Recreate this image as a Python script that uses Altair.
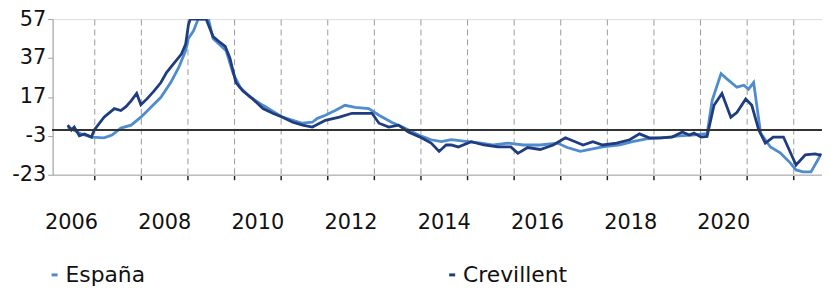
import altair as alt
import pandas as pd

# --- data (decimal year, value) ---
crev_t = [2006.43, 2006.51, 2006.57, 2006.68, 2006.79, 2006.94, 2007.00, 2007.21, 2007.43, 2007.57,
          2007.68, 2007.79, 2007.91, 2008.00, 2008.13, 2008.28, 2008.43, 2008.55, 2008.70, 2008.87,
          2008.96, 2009.02, 2009.06, 2009.40, 2009.55, 2009.70, 2009.81, 2009.91, 2010.04, 2010.19,
          2010.40, 2010.62, 2010.83, 2011.04, 2011.26, 2011.47, 2011.68, 2011.96, 2012.26, 2012.53,
          2012.81, 2012.96, 2013.11, 2013.32, 2013.53, 2013.74, 2014.02, 2014.23, 2014.40, 2014.55,
          2014.66, 2014.81, 2015.09, 2015.36, 2015.66, 2015.94, 2016.09, 2016.30, 2016.57, 2016.85,
          2017.11, 2017.32, 2017.49, 2017.70, 2017.91, 2018.21, 2018.49, 2018.70, 2018.91, 2019.13,
          2019.40, 2019.62, 2019.77, 2019.87, 2020.02, 2020.15, 2020.30, 2020.47, 2020.66, 2020.79,
          2020.98, 2021.11, 2021.26, 2021.40, 2021.57, 2021.79, 2022.06, 2022.26, 2022.47, 2022.60]
crev_v = [2.5, 0, 1.5, -3, -2, -3.6, 0, 6.6, 11, 10,
          12, 15, 18.8, 13, 16, 20, 24.4, 29.5, 34, 39,
          44, 54, 57, 57, 48, 45, 43, 37, 24.4, 20,
          16, 11, 8.6, 6.6, 4, 2.5, 1.5, 5, 6.6, 8.6,
          8.6, 8.6, 3.5, 1.5, 2.5, -1, -4, -6.7, -11, -7.7,
          -7.7, -8.7, -6, -7.7, -8.7, -8.7, -12, -9, -10, -7.7,
          -4, -6, -7.7, -6, -7.7, -6.7, -5, -2, -4, -4,
          -3.6, -1, -2.6, -1.6, -3.6, -3.3, 12.7, 18.8, 6.6, 9,
          16, 12.7, 0, -6.7, -3.6, -3.6, -18, -12.8, -12.3, -13]

esp_t = [2006.43, 2006.72, 2006.94, 2007.21, 2007.38, 2007.57, 2007.79, 2008.00, 2008.21, 2008.43,
         2008.64, 2008.81, 2008.96, 2009.02, 2009.13, 2009.23, 2009.45, 2009.55, 2009.83, 2009.98,
         2010.13, 2010.34, 2010.62, 2011.04, 2011.47, 2011.68, 2011.79, 2011.96, 2012.17, 2012.38,
         2012.60, 2012.89, 2013.11, 2013.38, 2013.66, 2013.96, 2014.23, 2014.45, 2014.66, 2015.02,
         2015.30, 2015.57, 2015.87, 2016.21, 2016.57, 2016.94, 2017.15, 2017.43, 2017.64, 2017.91,
         2018.28, 2018.55, 2018.85, 2019.19, 2019.55, 2019.83, 2020.09, 2020.15, 2020.26, 2020.45,
         2020.57, 2020.79, 2020.94, 2021.04, 2021.15, 2021.30, 2021.51, 2021.72, 2021.94, 2022.06,
         2022.21, 2022.38, 2022.53, 2022.60]
esp_v = [1.5, -2, -3.6, -4, -2.6, 1, 2.5, 6.6, 11.6, 16.8,
         24.4, 32, 40.7, 47, 51, 57, 57, 47, 40.7, 29,
         22, 17, 12.7, 6.6, 3.5, 4, 6, 7.6, 10, 12.7,
         11.6, 11, 7.6, 4, 1, -2.6, -5, -6, -5, -6,
         -6.7, -7.7, -6.7, -7.7, -7.7, -6.7, -9, -11, -10, -8.7,
         -7.7, -6, -4.6, -4, -3, -2.6, -2, -2, 15.2, 29,
         26.4, 22, 23, 21, 24.4, -1.6, -8.7, -11.7, -17, -20.5,
         -21.5, -21.5, -15.3, -12]

series_names = ["España", "Crevillent"]
series_colors = ["#4f8bcf", "#1f3c80"]

y_ticks = [57, 37, 17, -3, -23]
year_lines = list(range(2007, 2023))
year_labels = [2006.5, 2008.5, 2010.5, 2012.5, 2014.5, 2016.5, 2018.5, 2020.5]

df = pd.concat([
    pd.DataFrame({"t": esp_t, "v": esp_v, "serie": series_names[0]}),
    pd.DataFrame({"t": crev_t, "v": crev_v, "serie": series_names[1]}),
])

FONT = "DejaVu Sans"

x_scale = alt.Scale(domain=[2006.106, 2022.617], nice=False, zero=False)
y_scale = alt.Scale(domain=[-23, 57], nice=False, zero=False)

x_axis = alt.Axis(
    values=sorted(year_lines + year_labels),
    labelExpr="datum.value % 1 === 0 ? '' : floor(datum.value) + ''",
    labelOverlap=False, labelFlush=False,
    labelFont=FONT, labelFontSize=21, labelColor="#111111",
    labelBaseline="alphabetic", labelPadding=49,
    grid=True, gridColor="#9a9a9a", gridDash=[6, 4], gridWidth=1,
    gridOpacity={"condition": {"test": "datum.value % 1 === 0", "value": 1}, "value": 0},
    ticks=True, tickColor="#222222", tickWidth=1.5, tickSize=5,
    tickOpacity={"condition": {"test": "datum.value % 1 === 0", "value": 1}, "value": 0},
    domainColor="#bdbdbd", domainWidth=1.5, title=None,
)
y_axis = alt.Axis(
    values=y_ticks, grid=False, labelFont=FONT, labelFontSize=21, labelColor="#111111",
    labelExpr="datum.value < 0 ? '-' + abs(datum.value) : '' + datum.value",
    labelOverlap=False, labelFlush=False,
    labelPadding=2, tickSize=5, tickColor="#a0a0a0", domainColor="#a0a0a0",
    domainWidth=1, title=None,
)

lines = alt.Chart(df).mark_line(strokeWidth=2.8, clip=True).encode(
    x=alt.X("t:Q", scale=x_scale, axis=x_axis),
    y=alt.Y("v:Q", scale=y_scale, axis=y_axis),
    color=alt.Color(
        "serie:N",
        scale=alt.Scale(domain=series_names, range=series_colors),
        legend=alt.Legend(
            orient="none", legendX=-9, legendY=247, direction="horizontal", title=None,
            symbolType="stroke", symbolSize=36, symbolStrokeWidth=3,
            labelFont=FONT, labelFontSize=22, labelColor="#111111", labelOffset=0,
            columnPadding=298, padding=0,
        ),
    ),
    order=alt.Order("t:Q"),
    detail="serie:N",
)

zero = alt.Chart(df).mark_rule(color="#333333", strokeWidth=2).encode(
    y=alt.datum(0, scale=y_scale, axis=y_axis)
)

chart = alt.layer(lines, zero).properties(
    width=776, height=157,
    padding={"left": 45, "top": 10, "right": 0, "bottom": 113},
    autosize=alt.AutoSizeParams(type="none"),
).configure_view(stroke=None).configure_axis(labelOverlap=False).configure(background="white")

chart.save("out.html", embed_options={"renderer": "svg", "actions": False})
